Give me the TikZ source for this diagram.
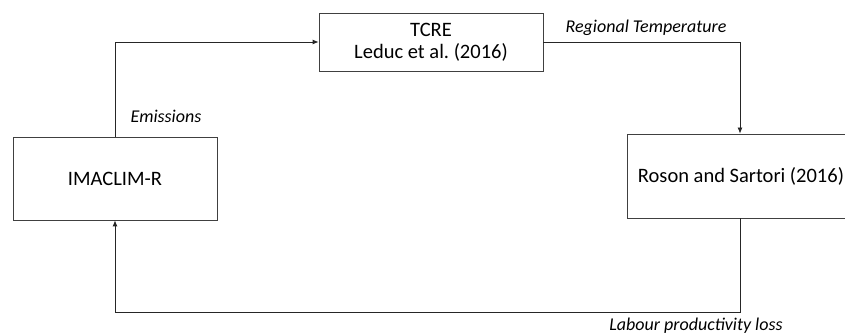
\documentclass[tikz,border=0pt]{standalone}
\usepackage{fontspec}
\setmainfont{Carlito}
\usetikzlibrary{arrows.meta}

\tikzset{every picture/.style={line width=0.8pt}}
\tikzset{
    model/.style={draw=black!75, rectangle, align=center, font=\fontsize{20.5}{24}\selectfont},
    flow/.style={draw=black!85, -{Latex[length=6pt,width=5pt]}},
    flowlabel/.style={font=\fontsize{18}{21}\selectfont\itshape}
}

\begin{document}
\begin{tikzpicture}[x=1pt, y=-1pt]
    \useasboundingbox (0,0) rectangle (845,336);
    \node[model, minimum width=204pt, minimum height=83pt] (imaclim) at (115,178.5) {IMACLIM-R};
    \node[model, minimum width=224pt, minimum height=58pt] (tcre) at (431,42) {TCRE\\[-2pt]Leduc et al.\ (2016)};
    \node[model, minimum width=226pt, minimum height=84pt] (roson) at (740,176) {\hspace*{2pt}Roson and Sartori (2016)};
    \draw[flow] (imaclim.north) |- (tcre.west);
    \draw[flow] (tcre.east) -| (roson.north);
    \draw[flow] (roson.south) -- ++(0,94) -| (imaclim.south);
    \node[flowlabel] (emis) at (166,116) {Emissions};
    \node[flowlabel] (temp) at (646,28) {Regional Temperature};
    \node[flowlabel] (labour) at (696,326) {Labour productivity loss};
\end{tikzpicture}
\end{document}
